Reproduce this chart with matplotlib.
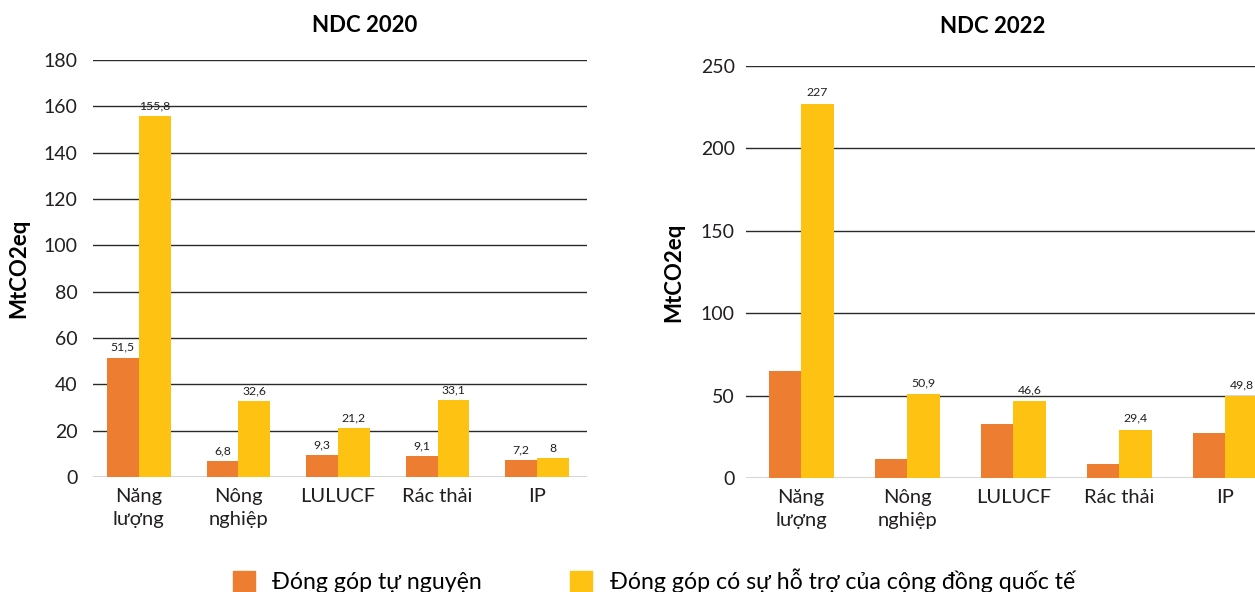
import matplotlib.pyplot as plt
import numpy as np
from matplotlib.patches import Patch

plt.rcParams['font.family'] = ['Lato', 'Noto Sans', 'DejaVu Sans']

# Data
sectors = ['Năng\nlượng', 'Nông\nnghiệp', 'LULUCF', 'Rác thải', 'IP']
series_names = ['Đóng góp tự nguyện',
                'Đóng góp có sự hỗ trợ của cộng đồng quốc tế']

ndc2020_voluntary = [51.5, 6.8, 9.3, 9.1, 7.2]
ndc2020_supported = [155.8, 32.6, 21.2, 33.1, 8]
ndc2022_voluntary = [64.8, 11.5, 32.5, 8.3, 27.5]
ndc2022_supported = [227, 50.9, 46.6, 29.4, 49.8]
# only these values carry a label in the 2022 panel
ndc2022_supported_labels = ['227', '50,9', '46,6', '29,4', '49,8']

orange = '#ED7D31'
yellow = '#FDC212'

fig = plt.figure(figsize=(12.55, 5.92), dpi=100)
ax1 = fig.add_axes([0.0741, 0.1943, 0.3936, 0.7043])
ax2 = fig.add_axes([0.5944, 0.1926, 0.4056, 0.6960])

x = np.arange(len(sectors))


def fmt(v):
    s = ('%g' % v).replace('.', ',')
    return s


def style_axis(ax, ymax, step, xlim, ypad):
    ax.set_ylim(0, ymax)
    ax.set_xlim(*xlim)
    ax.set_yticks(np.arange(0, ymax + 1, step))
    ax.set_xticks(x)
    ax.set_xticklabels(sectors, fontsize=14.5, linespacing=1.45)
    ax.tick_params(axis='y', length=0, labelsize=14, colors='#231F20',
                   pad=ypad)
    ax.tick_params(axis='x', length=0, colors='#231F20', pad=8)
    for s in ax.spines.values():
        s.set_visible(False)
    ax.yaxis.grid(True, color='#2a2a2a', linewidth=1.0)
    ax.set_axisbelow(True)
    ax.set_ylabel('MtCO2eq', fontsize=16, fontweight='bold')


# NDC 2020
w1 = 0.32
ax1.bar(x - w1 / 2, ndc2020_voluntary, w1, color=orange)
ax1.bar(x + w1 / 2, ndc2020_supported, w1, color=yellow)
for xi, v in zip(x, ndc2020_voluntary):
    ax1.annotate(fmt(v), (xi - w1 / 2, v), xytext=(0, 7.5),
                 textcoords='offset points', ha='center', va='center',
                 fontsize=8.8, color='#231F20')
for xi, v in zip(x, ndc2020_supported):
    ax1.annotate(fmt(v), (xi + w1 / 2, v), xytext=(0, 7.5),
                 textcoords='offset points', ha='center', va='center',
                 fontsize=8.8, color='#231F20')
style_axis(ax1, 180, 20, (-0.46, 4.5), 11)
ax1.yaxis.set_label_coords(-0.13, 0.5)
ax1.set_title('NDC 2020', fontsize=16, fontweight='bold', x=0.55, pad=20)

# NDC 2022
w2 = 0.307
ax2.bar(x - w2 / 2, ndc2022_voluntary, w2, color=orange)
ax2.bar(x + w2 / 2, ndc2022_supported, w2, color=yellow)
for xi, v, lab in zip(x, ndc2022_supported, ndc2022_supported_labels):
    ax2.annotate(lab, (xi + w2 / 2, v), xytext=(0, 8),
                 textcoords='offset points', ha='center', va='center',
                 fontsize=8.8, color='#231F20')
style_axis(ax2, 250, 50, (-0.52, 4.28), 8)
ax2.yaxis.set_label_coords(-0.122, 0.5)
ax2.set_title('NDC 2022', fontsize=16, fontweight='bold', x=0.485, pad=24)

handles = [Patch(color=orange), Patch(color=yellow)]
fig.legend(handles, series_names, loc='center left',
           bbox_to_anchor=(0.1857, 0.0186), ncol=2, frameon=False,
           fontsize=16.7, handlelength=0.95, handleheight=0.95,
           handletextpad=0.75, columnspacing=3.8, borderpad=0,
           borderaxespad=0)

fig.savefig('out.png', dpi=100)
